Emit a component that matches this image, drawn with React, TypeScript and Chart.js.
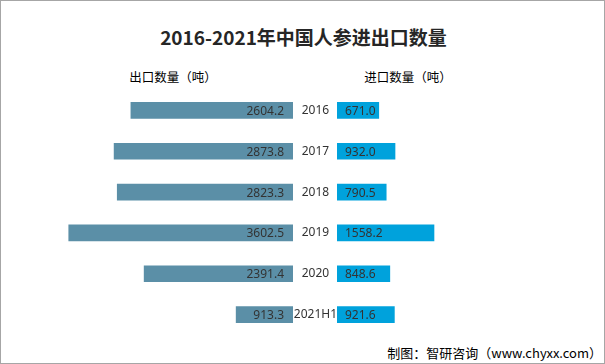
import React, { useEffect, useRef } from "react";
import { Chart, registerables } from "chart.js";

Chart.register(...registerables);

const categories = ["2016", "2017", "2018", "2019", "2020", "2021H1"];
const exportValues = [2604.2, 2873.8, 2823.3, 3602.5, 2391.4, 913.3];
const importValues = [671.0, 932.0, 790.5, 1558.2, 848.6, 921.6];
const axisMax = 4000;

const labelFont = '12px "Noto Sans", "Liberation Sans", sans-serif';

const valueLabels = (side: "left" | "right") => ({
  id: "valueLabels_" + side,
  afterDatasetsDraw(chart: any) {
    const ctx = chart.ctx;
    const meta = chart.getDatasetMeta(0);
    const data = chart.data.datasets[0].data as number[];
    ctx.save();
    ctx.font = labelFont;
    ctx.fillStyle = "#333333";
    ctx.textBaseline = "middle";
    meta.data.forEach((bar: any, i: number) => {
      const txt = data[i].toFixed(1);
      if (side === "left") {
        ctx.textAlign = "right";
        ctx.fillText(txt, bar.base - 9, bar.y + 1);
      } else {
        ctx.textAlign = "left";
        ctx.fillText(txt, bar.base + 8, bar.y + 1);
      }
    });
    ctx.restore();
  },
});

export default function App() {
  const leftRef = useRef<HTMLCanvasElement>(null);
  const rightRef = useRef<HTMLCanvasElement>(null);

  useEffect(() => {
    const left = new Chart(leftRef.current!, {
      type: "bar",
      data: {
        labels: categories,
        datasets: [
          {
            data: exportValues,
            backgroundColor: "#5b8fa7",
            barThickness: 16,
          },
        ],
      },
      options: {
        indexAxis: "y",
        responsive: false,
        animation: false,
        layout: { padding: 0 },
        plugins: { legend: { display: false }, tooltip: { enabled: false } },
        scales: {
          x: { display: false, reverse: true, min: 0, max: axisMax },
          y: { display: false },
        },
      },
      plugins: [valueLabels("left")],
    });

    const right = new Chart(rightRef.current!, {
      type: "bar",
      data: {
        labels: categories,
        datasets: [
          {
            data: importValues,
            backgroundColor: "#00a2dc",
            barThickness: 16,
          },
        ],
      },
      options: {
        indexAxis: "y",
        responsive: false,
        animation: false,
        layout: { padding: 0 },
        plugins: { legend: { display: false }, tooltip: { enabled: false } },
        scales: {
          x: { display: false, min: 0, max: axisMax },
          y: {
            position: "left",
            grid: { display: false, drawTicks: false },
            border: { display: false },
            ticks: {
              padding: 0,
              crossAlign: "center",
              color: "#333333",
              font: { family: '"Noto Sans", "Liberation Sans", sans-serif', size: 12 },
            },
            afterFit(scale: any) {
              scale.width = 44;
              scale.paddingTop = 0;
              scale.paddingBottom = 0;
            },
          },
        },
      },
      plugins: [valueLabels("right")],
    });

    return () => {
      left.destroy();
      right.destroy();
    };
  }, []);

  const cjk = '"Noto Sans CJK SC", "Noto Sans", sans-serif';

  return (
    <div
      style={{
        position: "fixed",
        left: 0,
        top: 0,
        width: 605,
        height: 364,
        boxSizing: "border-box",
        border: "1px solid #a6a6a6",
        background: "#ffffff",
        overflow: "hidden",
      }}
    >
      <div
        style={{
          position: "absolute",
          left: 0,
          top: 22,
          width: 605,
          textAlign: "center",
          fontFamily: cjk,
          fontWeight: "bold",
          fontSize: 19,
          lineHeight: "28px",
          color: "#262626",
        }}
      >
        2016-2021年中国人参进出口数量
      </div>
      <div
        style={{
          position: "absolute",
          left: 112,
          top: 67,
          width: 120,
          textAlign: "center",
          fontFamily: cjk,
          fontSize: 12.5,
          lineHeight: "18px",
          color: "#000000",
        }}
      >
        出口数量（吨）
      </div>
      <div
        style={{
          position: "absolute",
          left: 347,
          top: 67,
          width: 120,
          textAlign: "center",
          fontFamily: cjk,
          fontSize: 12.5,
          lineHeight: "18px",
          color: "#000000",
        }}
      >
        进口数量（吨）
      </div>
      <canvas
        ref={leftRef}
        width={249}
        height={245}
        style={{ position: "absolute", left: 43, top: 89, width: 249, height: 245 }}
      />
      <canvas
        ref={rightRef}
        width={293}
        height={245}
        style={{ position: "absolute", left: 292, top: 89, width: 293, height: 245 }}
      />
      <div
        style={{
          position: "absolute",
          right: 2,
          top: 342,
          fontFamily: cjk,
          fontSize: 13,
          lineHeight: "20px",
          color: "#000000",
          whiteSpace: "nowrap",
        }}
      >
        制图：智研咨询（www.chyxx.com）
      </div>
    </div>
  );
}
